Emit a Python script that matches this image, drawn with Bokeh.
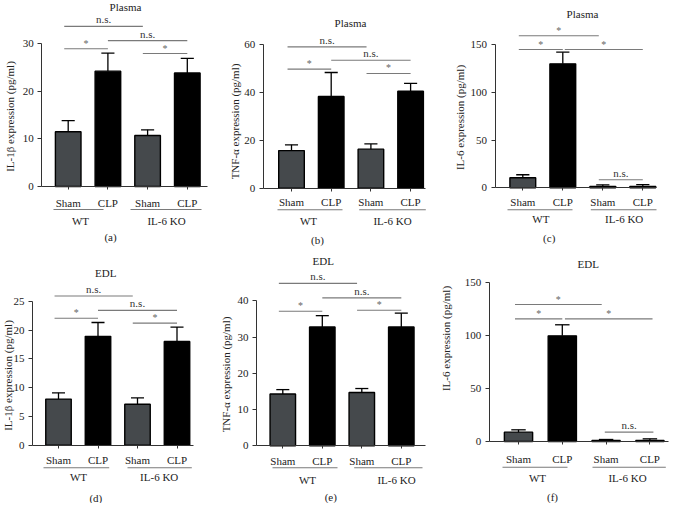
import numpy as np
from bokeh.plotting import figure
from bokeh.layouts import row, column
from bokeh.models import Range1d, FixedTicker
from bokeh.core.properties import value
from bokeh.embed import file_html
from bokeh.resources import INLINE

# ---------------- data ----------------
conditions = ["Sham", "CLP", "Sham", "CLP"]
genotypes = ["WT", "IL-6 KO"]
tissues = ["Plasma", "Plasma", "Plasma", "EDL", "EDL", "EDL"]
letters = ["(a)", "(b)", "(c)", "(d)", "(e)", "(f)"]
ylabels = ["IL-1β expression (pg/ml)", "TNF-α expression (pg/ml)", "IL-6 expression (pg/ml)",
           "IL-1β expression (pg/ml)", "TNF-α expression (pg/ml)", "IL-6 expression (pg/ml)"]

il1b_plasma_mean = [11.5, 24.2, 10.7, 23.8]
il1b_plasma_sem = [2.3, 3.8, 1.2, 3.1]
tnf_plasma_mean = [15.7, 38.3, 16.3, 40.5]
tnf_plasma_sem = [2.4, 10.0, 2.2, 3.3]
il6_plasma_mean = [10.5, 130.0, 1.4, 1.5]
il6_plasma_sem = [3.2, 12.3, 1.7, 1.8]
il1b_edl_mean = [8.0, 18.9, 7.1, 18.0]
il1b_edl_sem = [1.1, 2.4, 1.1, 2.5]
tnf_edl_mean = [14.3, 32.8, 14.7, 32.8]
tnf_edl_sem = [1.2, 3.1, 1.1, 3.8]
il6_edl_mean = [8.8, 99.5, 1.0, 1.0]
il6_edl_sem = [2.2, 10.4, 0.9, 1.5]

yticks_a = [0, 10, 20, 30]
yticks_b = [0, 20, 40, 60]
yticks_c = [0, 50, 100, 150]
yticks_d = [0, 5, 10, 15, 20, 25]
yticks_e = [0, 10, 20, 30, 40]
yticks_f = [0, 50, 100, 150]

# significance comparisons: label, from bar, to bar, bracket height (data units)
sig_a = [("n.s.", 0.9, 2.88, 33.6), ("n.s.", 2.0, 4.0, 30.6), ("*", 0.9, 2.0, 28.9), ("*", 2.88, 4.0, 27.9)]
sig_b = [("n.s.", 0.9, 2.89, 59.0), ("n.s.", 2.0, 4.0, 53.4), ("*", 0.9, 2.0, 49.7), ("*", 2.89, 4.0, 47.9)]
sig_c = [("*", 0.9, 2.9, 159.5), ("*", 0.9, 2.0, 145.0), ("*", 2.05, 4.0, 145.0), ("n.s.", 2.9, 4.0, 8.4)]
sig_d = [("n.s.", 0.9, 2.88, 25.9), ("n.s.", 2.0, 4.0, 23.4), ("*", 0.9, 2.0, 22.05), ("*", 2.88, 4.0, 21.2)]
sig_e = [("n.s.", 0.9, 2.88, 44.8), ("n.s.", 2.0, 4.0, 40.8), ("*", 0.9, 2.0, 37.1), ("*", 2.88, 4.0, 37.4)]
sig_f = [("*", 0.92, 2.9, 129.0), ("*", 0.92, 2.0, 115.5), ("*", 2.06, 4.06, 115.5), ("n.s.", 2.97, 4.08, 8.8)]

# ---------------- layout / style ----------------
FONT = "Liberation Serif"
F = 1.0          # vertical scale from reference pixels to page pixels
PAGE_Y0 = 0.0    # observed page y of the first row's top edge
SHAM_C = "#45494c"
CLP_C = "#000000"
AX = "#333333"
BR = "#7a7a7a"
TXT = "#222222"

ROW_H = [250, 253]

geo = [
    dict(col0=8, W=224, row=0, axis_x=49.3, c1=75.7, sp=39.7, y0=186.0, yt=43.0, xend=215,
         title=(133, 6), cat_y=202, line_y=209, grp_y=220, let_y=236,
         wt_line=(61, 111), ko_line=(138, 209), wt_x=88, ko_x=174, let_x=118, ylab=(17, 116)),
    dict(col0=232, W=224, row=0, axis_x=270.7, c1=299.0, sp=39.7, y0=187.7, yt=44.0, xend=433,
         title=(358, 22.7), cat_y=201.7, line_y=209.3, grp_y=220, let_y=239.3,
         wt_line=(285, 350), ko_line=(366.7, 433.3), wt_x=316, ko_x=400, let_x=325, ylab=(242, 121)),
    dict(col0=456, W=224, row=0, axis_x=502.5, c1=530.3, sp=40.0, y0=187.3, yt=44.3, xend=664,
         title=(590, 13.3), cat_y=201.7, line_y=209.3, grp_y=218.3, let_y=237.3,
         wt_line=(515, 580), ko_line=(598.3, 664), wt_x=548.3, ko_x=631.7, let_x=556.7, ylab=(467, 117)),
    dict(col0=8, W=210, row=1, axis_x=40.0, c1=66.0, sp=39.5, y0=444.7, yt=300.7, xend=201,
         title=(113.3, 272.7), cat_y=459.3, line_y=467.3, grp_y=476.7, let_y=497.0,
         wt_line=(51, 116.7), ko_line=(135, 199.3), wt_x=86, ko_x=166.7, let_x=103.3, ylab=(15, 375)),
    dict(col0=218, W=222, row=1, axis_x=264.0, c1=290.3, sp=39.5, y0=445.3, yt=300.3, xend=433.3,
         title=(330.7, 260), cat_y=460, line_y=467.3, grp_y=479, let_y=496.5,
         wt_line=(280, 345), ko_line=(361.7, 430), wt_x=315, ko_x=404, let_x=338.3, ylab=(233, 374)),
    dict(col0=440, W=240, row=1, axis_x=496.7, c1=526.0, sp=43.8, y0=441.0, yt=281.7, xend=676,
         title=(595.7, 263), cat_y=458.3, line_y=466.7, grp_y=477.7, let_y=496.5,
         wt_line=(510, 575), ko_line=(600, 673.3), wt_x=545, ko_x=635, let_x=560, ylab=(453, 338)),
]


def make_panel(i, mean, sem, yticks, sig):
    g = geo[i]
    ytop = yticks[-1]
    W = g["W"]
    H = ROW_H[g["row"]]
    page_top = PAGE_Y0 + sum(ROW_H[:g["row"]])

    def cy(ref_y):
        return F * ref_y - page_top

    def dx(ref_x):
        return 1 + (ref_x - g["c1"]) / g["sp"]

    def dy(ref_y):
        return (g["y0"] - ref_y) / (g["y0"] - g["yt"]) * ytop

    ppu = (cy(g["y0"]) - cy(g["yt"])) / ytop
    y_hi = cy(g["y0"]) / ppu
    y_lo = -(H - cy(g["y0"])) / ppu
    x_lo = dx(g["col0"])
    x_hi = dx(g["col0"] + W)
    x_axis = dx(g["axis_x"])

    p = figure(width=W, height=H, x_range=Range1d(x_lo, x_hi), y_range=Range1d(y_lo, y_hi),
               output_backend="svg", toolbar_location=None,
               min_border_left=0, min_border_right=0, min_border_top=0, min_border_bottom=0)
    p.title.visible = False
    p.outline_line_color = None
    p.grid.visible = False
    p.background_fill_color = "white"
    p.border_fill_color = "white"

    ya = p.yaxis[0]
    ya.fixed_location = x_axis
    ya.ticker = FixedTicker(ticks=yticks)
    ya.bounds = (0, ytop)
    ya.major_label_text_font = FONT
    ya.major_label_text_font_size = "11px"
    ya.major_label_text_color = TXT
    ya.major_label_standoff = 4
    ya.major_tick_out = 4
    ya.major_tick_in = 0
    ya.minor_tick_line_color = None
    ya.axis_line_color = AX
    ya.major_tick_line_color = AX

    xa = p.xaxis[0]
    xa.fixed_location = 0
    xa.ticker = FixedTicker(ticks=[1, 2, 3, 4])
    xa.major_label_overrides = {k + 1: c for k, c in enumerate(conditions)}
    xa.bounds = (x_axis, dx(g["xend"]))
    xa.major_label_text_font = FONT
    xa.major_label_text_font_size = "11px"
    xa.major_label_text_color = TXT
    xa.major_label_standoff = max(2, int(round(F * (g["cat_y"] - g["y0"]) - 3 - 6)))
    xa.major_tick_out = 3
    xa.major_tick_in = 0
    xa.minor_tick_line_color = None
    xa.axis_line_color = AX
    xa.major_tick_line_color = AX

    # y-axis title
    p.text(x=[dx(g["ylab"][0])], y=[dy(g["ylab"][1])], text=[ylabels[i]], angle=np.pi / 2,
           text_font=value(FONT), text_font_size="11px", text_color=TXT,
           text_align="center", text_baseline="middle")

    x = np.arange(1, 5)
    m = np.array(mean, dtype=float)
    t = m + np.array(sem, dtype=float)
    colors = [SHAM_C if c == "Sham" else CLP_C for c in conditions]
    p.vbar(x=x, top=m, bottom=0, width=0.645, fill_color=colors, line_color="black", line_width=1.4)
    p.segment(x0=x, y0=m, x1=x, y1=t, line_color="black", line_width=1.3)
    p.segment(x0=x - 0.165, y0=t, x1=x + 0.165, y1=t, line_color="black", line_width=1.3)

    # significance brackets
    p.segment(x0=[s[1] for s in sig], y0=[s[3] for s in sig], x1=[s[2] for s in sig],
              y1=[s[3] for s in sig], line_color=BR, line_width=1.1)
    ns = [s for s in sig if s[0] != "*"]
    st = [s for s in sig if s[0] == "*"]
    if ns:
        p.text(x=[(s[1] + s[2]) / 2 for s in ns], y=[s[3] for s in ns], text=[s[0] for s in ns],
               text_font=value(FONT), text_font_size="11px", text_color="#333333",
               text_align="center", text_baseline="bottom", y_offset=-1)
    if st:
        p.text(x=[(s[1] + s[2]) / 2 for s in st], y=[s[3] for s in st], text=[s[0] for s in st],
               text_font=value(FONT), text_font_size="10px", text_color="#666666",
               text_align="center", text_baseline="bottom", y_offset=0)

    # genotype group underline & labels
    p.segment(x0=[dx(g["wt_line"][0]), dx(g["ko_line"][0])], y0=[dy(g["line_y"])] * 2,
              x1=[dx(g["wt_line"][1]), dx(g["ko_line"][1])], y1=[dy(g["line_y"])] * 2,
              line_color=BR, line_width=1.1)
    p.text(x=[dx(g["wt_x"]), dx(g["ko_x"])], y=[dy(g["grp_y"])] * 2, text=genotypes,
           text_font=value(FONT), text_font_size="11px", text_color=TXT,
           text_align="center", text_baseline="middle")

    # tissue title and panel letter
    p.text(x=[dx(g["title"][0])], y=[dy(g["title"][1])], text=[tissues[i]],
           text_font=value(FONT), text_font_size="11px", text_color=TXT,
           text_align="center", text_baseline="middle")
    p.text(x=[dx(g["let_x"])], y=[dy(g["let_y"])], text=[letters[i]],
           text_font=value(FONT), text_font_size="11px", text_color=TXT,
           text_align="center", text_baseline="middle")
    return p


pa = make_panel(0, il1b_plasma_mean, il1b_plasma_sem, yticks_a, sig_a)
pb = make_panel(1, tnf_plasma_mean, tnf_plasma_sem, yticks_b, sig_b)
pc = make_panel(2, il6_plasma_mean, il6_plasma_sem, yticks_c, sig_c)
pd = make_panel(3, il1b_edl_mean, il1b_edl_sem, yticks_d, sig_d)
pe = make_panel(4, tnf_edl_mean, tnf_edl_sem, yticks_e, sig_e)
pf = make_panel(5, il6_edl_mean, il6_edl_sem, yticks_f, sig_f)

layout = column(row(pa, pb, pc), row(pd, pe, pf))
open("out.html", "w").write(file_html(layout, INLINE))
